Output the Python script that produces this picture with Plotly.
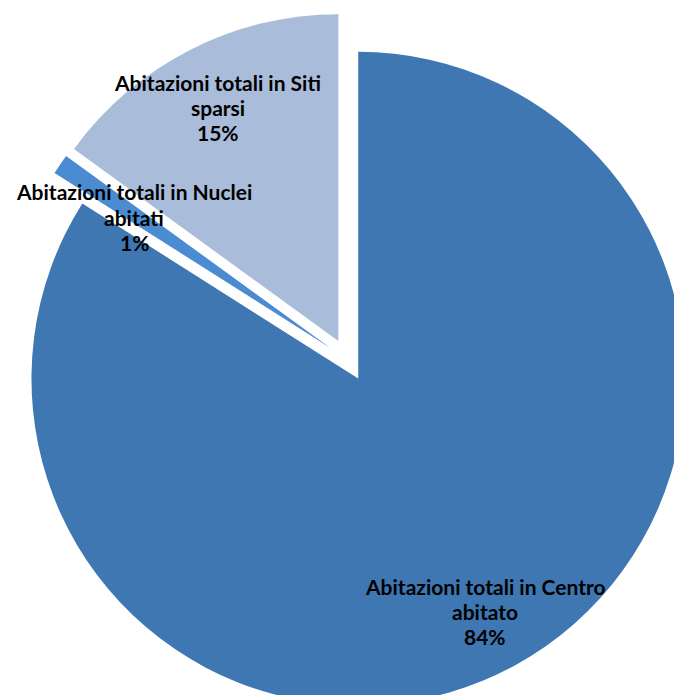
import plotly.graph_objects as go

# Abitazioni per tipo di località
categorie = [
    "Abitazioni totali in Centro abitato",
    "Abitazioni totali in Nuclei abitati",
    "Abitazioni totali in Siti sparsi",
]
valori = [84, 1, 15]
colori = ["#3e77b2", "#4a8bd2", "#a9bcd9"]

# righe delle etichette (a capo come nel grafico originale)
righe_etichette = [
    ["Abitazioni totali in Centro", "abitato"],
    ["Abitazioni totali in Nuclei", "abitati"],
    ["Abitazioni totali in Siti", "sparsi"],
]
# posizione (pixel) del centro di ogni blocco di etichetta
pos_etichette = [(485, 611), (134, 217), (218, 107)]
interlinea = 25

W, H = 696, 720
totale = sum(valori)

fig = go.Figure(
    go.Pie(
        labels=categorie,
        values=valori,
        sort=False,
        direction="clockwise",
        rotation=0,
        pull=[0.065, 0.065, 0.065],
        marker=dict(colors=colori, line=dict(width=0)),
        textinfo="none",
        hoverinfo="label+percent",
        showlegend=False,
        domain=dict(x=[0, 1], y=[0, 1]),
    )
)

for righe, (px, py), v in zip(righe_etichette, pos_etichette, valori):
    linee = righe + [f"{round(100 * v / totale)}%"]
    n = len(linee)
    for i, linea in enumerate(linee):
        ly = py + (i - (n - 1) / 2) * interlinea
        fig.add_annotation(
            x=px / W,
            y=1 - ly / H,
            xref="paper",
            yref="paper",
            xanchor="center",
            yanchor="middle",
            text=linea,
            showarrow=False,
            align="center",
            font=dict(family="Lato", size=21, color="#000000", weight="bold"),
        )

fig.update_layout(
    width=W,
    height=H,
    margin=dict(l=0, r=0, t=0, b=0),
    paper_bgcolor="white",
    plot_bgcolor="white",
)

fig.write_html("out.html")
